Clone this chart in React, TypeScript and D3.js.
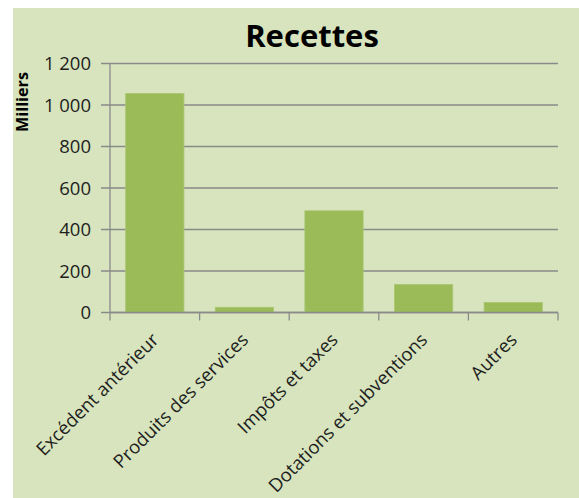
import { useEffect, useRef } from 'react'
import * as d3 from 'd3'

const CATEGORIES = [
  'Excédent antérieur',
  'Produits des services',
  'Impôts et taxes',
  'Dotations et subventions',
  'Autres',
]
const VALUES = [1055, 25, 490, 135, 48]
const Y_TICKS = [0, 200, 400, 600, 800, 1000, 1200]

const W = 579
const H = 498
const FONT = '"Open Sans", "Liberation Sans", sans-serif'
const GRID = '#8a8a8a'

export default function App() {
  const svgRef = useRef<SVGSVGElement>(null)

  useEffect(() => {
    if (!svgRef.current) return
    const svg = d3.select(svgRef.current)
    svg.selectAll('*').remove()

    // chart area background
    svg.append('rect')
      .attr('x', 13).attr('y', 8)
      .attr('width', W - 13).attr('height', H - 8)
      .attr('fill', '#d7e4bd')

    const y = d3.scaleLinear().domain([0, 1200]).range([312.5, 63.5])
    const x = d3.scaleBand<string>()
      .domain(CATEGORIES)
      .range([110, 558])
      .paddingInner(0.35)
      .paddingOuter(0.175)

    const g = svg.append('g')

    // gridlines + y ticks
    g.selectAll('line.grid')
      .data(Y_TICKS)
      .join('line')
      .attr('x1', 101).attr('x2', 558)
      .attr('y1', d => y(d)).attr('y2', d => y(d))
      .attr('stroke', GRID).attr('stroke-width', 1.3)

    g.selectAll('text.ytick')
      .data(Y_TICKS)
      .join('text')
      .attr('x', 91)
      .attr('y', d => y(d))
      .attr('dy', '0.36em')
      .attr('text-anchor', 'end')
      .style('font-family', FONT)
      .style('font-size', '18.5px')
      .style('fill', '#1e1e1e')
      .text(d => d3.format(',')(d).replace(/,/g, ' '))

    // y axis line
    g.append('line')
      .attr('x1', 110).attr('x2', 110)
      .attr('y1', y(1200)).attr('y2', y(0))
      .attr('stroke', GRID).attr('stroke-width', 1.3)

    // bars
    g.selectAll('rect.bar')
      .data(VALUES)
      .join('rect')
      .attr('x', (_, i) => x(CATEGORIES[i])!)
      .attr('y', d => y(d))
      .attr('width', x.bandwidth())
      .attr('height', d => y(0) - y(d))
      .attr('fill', '#9bbb59')
      .attr('stroke', '#a9c66f')
      .attr('stroke-width', 0.8)

    // x axis line and ticks at band boundaries
    g.append('line')
      .attr('x1', 110).attr('x2', 558)
      .attr('y1', y(0)).attr('y2', y(0))
      .attr('stroke', GRID).attr('stroke-width', 1.3)

    const bounds = d3.range(CATEGORIES.length + 1).map(i => 110 + i * x.step())
    g.selectAll('line.xtick')
      .data(bounds)
      .join('line')
      .attr('x1', d => d).attr('x2', d => d)
      .attr('y1', y(0)).attr('y2', y(0) + 8)
      .attr('stroke', GRID).attr('stroke-width', 1.3)

    // category labels
    g.selectAll('text.xlab')
      .data(CATEGORIES)
      .join('text')
      .attr('transform', d => `translate(${x(d)! + x.bandwidth() / 2 + 5},341) rotate(-45)`)
      .attr('text-anchor', 'end')
      .style('font-family', FONT)
      .style('font-size', '18.5px')
      .style('fill', '#1e1e1e')
      .text(d => d)

    // title
    svg.append('text')
      .attr('x', 312).attr('y', 47)
      .attr('text-anchor', 'middle')
      .style('font-family', FONT)
      .style('font-size', '31px')
      .style('font-weight', 'bold')
      .style('fill', '#000')
      .text('Recettes')

    // y axis title
    svg.append('text')
      .attr('transform', 'translate(28,102) rotate(-90)')
      .attr('text-anchor', 'middle')
      .attr('textLength', 60)
      .attr('lengthAdjust', 'spacingAndGlyphs')
      .style('font-family', FONT)
      .style('font-size', '15.5px')
      .style('font-weight', 'bold')
      .style('fill', '#000')
      .text('Milliers')
  }, [])

  return (
    <svg
      ref={svgRef}
      width={W}
      height={H}
      style={{ position: 'absolute', left: 0, top: 0, background: '#fff' }}
    />
  )
}
